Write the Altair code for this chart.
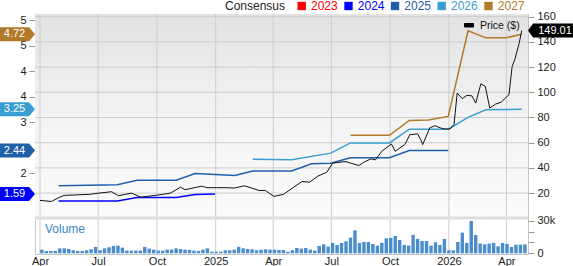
import altair as alt
import pandas as pd

FONT = "Liberation Sans"

# ---------------- data ----------------
price_dates = ["2024-04-01","2024-04-19","2024-05-02","2024-05-09","2024-06-17","2024-07-02","2024-07-22","2024-08-02",
               "2024-08-22","2024-09-06","2024-10-10","2024-10-22","2024-11-07","2024-11-14","2024-12-10","2024-12-18",
               "2025-01-02","2025-01-18","2025-01-30","2025-02-15","2025-03-10","2025-03-20","2025-04-02","2025-04-17",
               "2025-05-02","2025-05-16","2025-05-28","2025-06-10","2025-06-24","2025-07-03","2025-07-13","2025-07-24",
               "2025-08-01","2025-08-13","2025-08-21","2025-09-01","2025-09-08","2025-09-18","2025-10-03","2025-10-09",
               "2025-10-18","2025-10-24","2025-11-01","2025-11-13","2025-11-18","2025-11-21","2025-12-02","2025-12-10",
               "2025-12-19","2025-12-25","2026-01-03","2026-01-09","2026-01-14","2026-01-22","2026-01-29","2026-02-06",
               "2026-02-12","2026-02-20","2026-02-27","2026-03-06","2026-03-15","2026-03-24","2026-04-01","2026-04-05",
               "2026-04-10","2026-04-14","2026-04-21","2026-04-25"]
price_values = [14.2,13.4,16.8,18.2,19.0,20.0,21.1,17.9,20.0,16.8,19.0,20.0,24.7,22.7,25.5,24.3,
                24.3,24.3,24.0,25.8,22.1,22.0,17.4,19.0,24.3,29.2,28.7,33.5,36.6,43.7,44.5,45.0,
                43.7,41.9,44.5,47.2,46.4,53.2,59.0,53.2,56.4,58.5,66.4,67.0,62.4,58.5,71.7,73.5,
                71.7,70.9,70.9,74.3,99.4,94.9,97.5,97.2,91.4,106.7,104.6,87.5,90.6,92.2,96.2,98.0,
                120.4,125.7,138.9,149.01]

eps_2024_dates = ["2024-04-30","2024-07-31","2024-08-31","2024-10-31","2024-11-30","2024-12-31"]
eps_2024 = [1.45,1.45,1.52,1.52,1.58,1.59]
eps_2025_dates = ["2024-04-30","2024-07-31","2024-08-31","2024-10-31","2024-11-30","2024-12-31","2025-01-31",
                  "2025-02-28","2025-04-30","2025-05-31","2025-06-30","2025-07-31","2025-09-30","2025-10-31","2025-12-31"]
eps_2025 = [1.75,1.77,1.86,1.86,1.99,1.97,1.95,2.04,2.04,2.18,2.19,2.30,2.30,2.44,2.44]
eps_2026_dates = ["2025-02-28","2025-04-30","2025-06-30","2025-07-31","2025-09-30","2025-10-31","2025-12-31",
                  "2026-01-31","2026-02-28","2026-04-25"]
eps_2026 = [2.27,2.26,2.39,2.59,2.59,2.86,2.86,3.09,3.24,3.25]
eps_2027_dates = ["2025-07-31","2025-09-30","2025-10-31","2025-11-30","2025-12-31","2026-01-31","2026-02-28",
                  "2026-03-31","2026-04-25"]
eps_2027 = [2.74,2.74,3.03,3.04,3.11,4.79,4.65,4.65,4.72]

legend_years = ["2023","2024","2025","2026","2027"]
year_colors = ["#ff0000","#0000ff","#1f5fa8","#3b9ed0","#b07a2a"]

volume_start = "2024-04-04"
volume_k = [3.4,2.2,2.2,2.2,4.6,4.6,4.0,2.8,2.2,2.2,2.8,3.7,5.9,2.8,4.6,5.6,6.8,7.1,5.2,2.5,2.5,2.5,2.5,5.9,
            4.3,3.4,2.5,2.5,3.4,3.4,4.6,4.0,3.4,3.1,2.5,2.2,3.4,4.6,1.5,1.5,1.5,2.8,2.8,3.4,5.9,4.6,4.0,3.7,
            2.8,3.4,3.7,3.4,3.4,3.1,3.0,
            1.5,2.8,4.9,4.3,4.9,3.4,2.5,6.8,8.3,6.2,9.6,7.7,9.6,11.1,14.5,21.3,9.6,10.5,10.5,8.6,7.1,9.6,
            13.9,14.2,16.0,12.3,7.7,7.1,17.0,13.3,11.4,11.4,7.1,10.2,7.7,13.3,2.8,2.8,10.5,19.1,9.6,29.9,
            17.0,9.0,8.3,9.0,9.6,6.5,9.6,8.6,5.9,8.0,8.0,8.3]

x_tick_dates = ["2024-04-01","2024-07-01","2024-10-01","2025-01-01","2025-04-01","2025-07-01",
                "2025-10-01","2026-01-01","2026-04-01"]
price_ticks = [20, 40, 60, 80, 100, 120, 140, 160]
eps_ticks = [2, 3, 3.5, 4, 4.5, 5]
vol_ticks = [0, 10, 20, 30]

# ---------------- frames ----------------
price_df = pd.DataFrame({"date": price_dates, "price": price_values})
eps_df = pd.concat([
    pd.DataFrame({"date": d, "eps": v, "year": y})
    for d, v, y in [(eps_2024_dates, eps_2024, "2024"), (eps_2025_dates, eps_2025, "2025"),
                    (eps_2026_dates, eps_2026, "2026"), (eps_2027_dates, eps_2027, "2027")]
], ignore_index=True)
badge_df = pd.DataFrame({
    "year": ["2024","2025","2026","2027"],
    "eps": [eps_2024[-1], eps_2025[-1], eps_2026[-1], eps_2027[-1]],
})
badge_df["label"] = badge_df["eps"].map(lambda v: f"{v:.2f}")
last_df = pd.DataFrame({"price": [price_values[-1]], "label": [f"{price_values[-1]:.2f}"]})
vol_df = pd.DataFrame({"date": pd.date_range(volume_start, periods=len(volume_k), freq="7D").strftime("%Y-%m-%d"),
                       "vol": volume_k})
xgrid_df = pd.DataFrame({"date": x_tick_dates})
pgrid_df = pd.DataFrame({"price": price_ticks})
one = pd.DataFrame({"k": [0]})

W, H = 493, 240
PRICE_BOTTOM = 204

# ---------------- scales / axes ----------------
x_scale = alt.Scale(type="utc", domain=["2024-04-01", "2026-04-27"])
x_axis = alt.Axis(values=x_tick_dates,
                  labelExpr="utcFormat(datum.value, '%m') == '01' ? utcFormat(datum.value, '%Y') : utcFormat(datum.value, '%b')",
                  grid=False, ticks=False, domain=False, labelPadding=1, labelFlush=False,
                  labelFont=FONT, labelFontSize=11, labelColor="#222", title=None)
x_enc = alt.X("date:T", scale=x_scale, axis=x_axis)

eps_scale = alt.Scale(domain=[0.412, 5.118], nice=False, zero=False)
price_scale = alt.Scale(domain=[-28.3, 162.1], nice=False, zero=False)
vol_scale = alt.Scale(domain=[-0.65, 221.6], nice=False, zero=False)
color_scale = alt.Scale(domain=legend_years, range=year_colors)

eps_axis = alt.Axis(orient="left", values=eps_ticks, format="~g", grid=False,
                    domain=False, tickSize=6, labelPadding=3, title=None)
price_axis = alt.Axis(orient="right", values=price_ticks, format="d", grid=False,
                      domain=False, tickSize=6, labelPadding=3, title=None)
vol_axis = alt.Axis(orient="right", values=vol_ticks, labelExpr="datum.value == 0 ? '0' : datum.value + 'k'",
                    grid=False, domain=False, tickSize=6, labelPadding=3, title=None)

# ---------------- layers ----------------
bg = alt.Chart(one).mark_rect(
    color=alt.LinearGradient(gradient="linear", x1=0, x2=0, y1=0, y2=1,
                             stops=[alt.GradientStop(offset=0, color="#e2e2e2"),
                                    alt.GradientStop(offset=0.5, color="#f3f3f3"),
                                    alt.GradientStop(offset=1, color="#fbfbfb")])
).encode(x=alt.value(0), x2=alt.value(W), y=alt.value(0), y2=alt.value(PRICE_BOTTOM))

xgrid = alt.Chart(xgrid_df).mark_rule(color="#cccccc", strokeWidth=1).encode(x=x_enc)
pgrid = alt.Chart(pgrid_df).mark_rule(color="#cccccc", strokeWidth=1).encode(
    y=alt.Y("price:Q", scale=price_scale, axis=None))

vol_layer = alt.Chart(vol_df).mark_bar(width=3.4, color="#4a8ccc").encode(
    x=x_enc, y=alt.Y("vol:Q", scale=vol_scale, axis=vol_axis))

sep = alt.Chart(one).mark_rule(color="#dedede", strokeWidth=3).encode(
    x=alt.value(0), x2=alt.value(W), y=alt.value(PRICE_BOTTOM))

eps_layer = alt.Chart(eps_df).mark_line(strokeWidth=1.5).encode(
    x=x_enc, y=alt.Y("eps:Q", scale=eps_scale, axis=eps_axis),
    color=alt.Color("year:N", scale=color_scale, legend=None), detail="year:N")

price_layer = alt.Chart(price_df).mark_line(color="#111111", strokeWidth=1).encode(
    x=x_enc, y=alt.Y("price:Q", scale=price_scale, axis=price_axis))

left_badge = alt.Chart(badge_df).mark_point(
    shape="M-1,-0.4L0.66,-0.4L1,0L0.66,0.4L-1,0.4Z", filled=True, size=35*35, opacity=1, strokeWidth=0).encode(
    x=alt.value(-17.5), y=alt.Y("eps:Q", scale=eps_scale, axis=None),
    color=alt.Color("year:N", scale=color_scale, legend=None))
left_badge_text = alt.Chart(badge_df).mark_text(color="white", fontSize=11, font=FONT).encode(
    x=alt.value(-20.5), y=alt.Y("eps:Q", scale=eps_scale, axis=None), text="label:N")

right_badge = alt.Chart(last_df).mark_point(
    shape="M-1,0L-0.78,-0.3L1,-0.3L1,0.3L-0.78,0.3Z", filled=True, size=46*46, opacity=1, strokeWidth=0,
    color="black").encode(
    x=alt.value(W + 23), y=alt.Y("price:Q", scale=price_scale, axis=None))
right_badge_text = alt.Chart(last_df).mark_text(color="white", fontSize=11, font=FONT).encode(
    x=alt.value(W + 27), y=alt.Y("price:Q", scale=price_scale, axis=None), text="label:N")

price_swatch = alt.Chart(one).mark_rect(color="black", cornerRadius=1).encode(
    x=alt.value(429), x2=alt.value(439), y=alt.value(9), y2=alt.value(13.5))
price_label = alt.Chart(pd.DataFrame({"t": ["Price ($)"]})).mark_text(
    align="left", baseline="middle", fontSize=10.5, font=FONT, color="#111").encode(
    x=alt.value(445), y=alt.value(11.5), text="t:N")

volume_label = alt.Chart(pd.DataFrame({"t": ["Volume"]})).mark_text(
    align="left", baseline="middle", fontSize=12, font=FONT, color="#3a86c8").encode(
    x=alt.value(10), y=alt.value(215), text="t:N")

LEG_Y = -8
legend_layers = [alt.Chart(pd.DataFrame({"t": ["Consensus"]})).mark_text(
    align="left", baseline="middle", fontSize=12, font=FONT, color="#222").encode(
    x=alt.value(190), y=alt.value(LEG_Y), text="t:N")]
sq_x = [266.7, 313.5, 360, 406.7, 453.5]
for yr, col, sx in zip(legend_years, year_colors, sq_x):
    d = pd.DataFrame({"t": [yr]})
    legend_layers.append(alt.Chart(d).mark_square(size=70, color=col, opacity=1).encode(
        x=alt.value(sx), y=alt.value(LEG_Y)))
    legend_layers.append(alt.Chart(d).mark_text(
        align="left", baseline="middle", fontSize=12, font=FONT, color=col).encode(
        x=alt.value(sx + 9.3), y=alt.value(LEG_Y), text="t:N"))

chart = alt.layer(
    bg, xgrid, pgrid, vol_layer, sep, eps_layer, price_layer, left_badge, left_badge_text,
    right_badge, right_badge_text, price_swatch, price_label, volume_label, *legend_layers
).resolve_scale(y="independent").properties(
    width=W, height=H,
    autosize=alt.AutoSizeParams(type="none"),
    padding={"left": 35, "top": 14, "right": 45, "bottom": 12},
    background="white",
).configure_view(
    stroke="#c4c4c4"
).configure_axis(
    labelFont=FONT, labelFontSize=11, labelColor="#222", tickColor="#999"
)

chart.save("out.html", embed_options={"renderer": "svg", "actions": False})
